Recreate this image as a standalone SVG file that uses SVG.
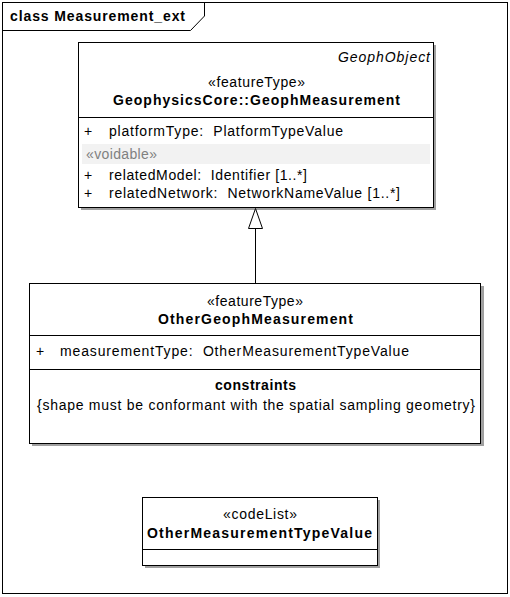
<svg xmlns="http://www.w3.org/2000/svg" width="510" height="597" viewBox="0 0 510 597">
<style>
text{font-family:"Liberation Sans",Arial,sans-serif;font-size:14px;fill:#000;white-space:pre}
.b{font-weight:bold}
.box{fill:#fff;stroke:#000;stroke-width:1}
.sh{fill:#a0a0a0}
.ln{stroke:#000;stroke-width:1;fill:none}
</style>
<rect x="0" y="0" width="510" height="597" fill="#fff"/>
<g id="frame">
<rect x="2.5" y="2.5" width="505" height="591" class="ln"/>
<path d="M2.5 30.5 H190.5 L204.5 16 V2.5" class="ln"/>
<text x="10" y="21" class="b" textLength="175" lengthAdjust="spacing">class Measurement_ext</text>
</g>
<g id="GeophMeasurement">
<rect x="81" y="45" width="355" height="165" class="sh"/>
<rect x="78.5" y="42.5" width="355" height="165" class="box"/>
<text x="338" y="62" style="font-style:italic" textLength="92" lengthAdjust="spacing">GeophObject</text>
<text x="208" y="87" textLength="97" lengthAdjust="spacing">«featureType»</text>
<text x="113" y="105" class="b" textLength="287" lengthAdjust="spacing">GeophysicsCore::GeophMeasurement</text>
<line x1="78.5" y1="117.5" x2="433.5" y2="117.5" class="ln"/>
<text x="84" y="136">+</text>
<text x="109" y="136" textLength="234" lengthAdjust="spacing">platformType:  PlatformTypeValue</text>
<rect x="82" y="144" width="348" height="20" fill="#f2f2f2"/>
<text x="86" y="159" style="fill:#808080" textLength="71" lengthAdjust="spacing">«voidable»</text>
<text x="84" y="180">+</text>
<text x="109" y="180" textLength="198" lengthAdjust="spacing">relatedModel:  Identifier [1..*]</text>
<text x="84" y="198">+</text>
<text x="109" y="198" textLength="291" lengthAdjust="spacing">relatedNetwork:  NetworkNameValue [1..*]</text>
</g>
<g id="OtherGeophMeasurement">
<rect x="32" y="286" width="452" height="160" class="sh"/>
<rect x="29.5" y="283.5" width="451" height="160" class="box"/>
<text x="207" y="306" textLength="96" lengthAdjust="spacing">«featureType»</text>
<text x="158" y="324" class="b" textLength="195" lengthAdjust="spacing">OtherGeophMeasurement</text>
<line x1="29.5" y1="335.5" x2="480.5" y2="335.5" class="ln"/>
<text x="36" y="356">+</text>
<text x="60" y="356" textLength="349" lengthAdjust="spacing">measurementType:  OtherMeasurementTypeValue</text>
<line x1="29.5" y1="369.5" x2="480.5" y2="369.5" class="ln"/>
<text x="215" y="390" class="b" textLength="81" lengthAdjust="spacing">constraints</text>
<text x="37" y="410" textLength="438" lengthAdjust="spacing">{shape must be conformant with the spatial sampling geometry}</text>
</g>
<g id="OtherMeasurementTypeValue">
<rect x="145" y="500" width="235" height="68" class="sh"/>
<rect x="142.5" y="497.5" width="235" height="68" class="box"/>
<text x="223" y="519" textLength="74" lengthAdjust="spacing">«codeList»</text>
<text x="147" y="538" class="b" textLength="225" lengthAdjust="spacing">OtherMeasurementTypeValue</text>
<line x1="142.5" y1="549.5" x2="377.5" y2="549.5" class="ln"/>
</g>
<g id="connectors">
<line x1="255.5" y1="228" x2="255.5" y2="283" class="ln"/>
<path d="M255.5 208.5 L262.5 228.5 H248.5 Z" fill="#fff" stroke="#000"/>
</g>
</svg>
